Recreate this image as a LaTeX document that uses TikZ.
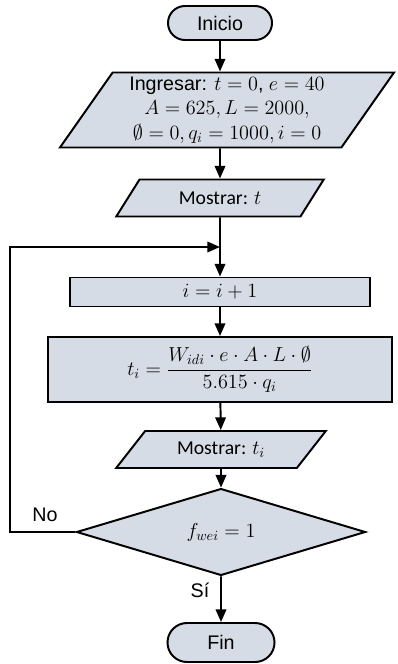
\documentclass[tikz,border=0pt]{standalone}
\usepackage{amsmath}
\usepackage{fontspec}
\setmainfont{Liberation Sans}
\newfontfamily\calibri{Carlito}
\usepackage{tikz}
\usetikzlibrary{shapes.geometric,shapes.misc,arrows.meta}
\definecolor{Box-Fill}{RGB}{214,220,229}
\tikzstyle{e}=[line width=1.4pt,arrows={-Triangle[length=9pt,width=7.5pt]}]
\tikzstyle{base}=[draw=black,line width=1.4pt,fill=Box-Fill,inner sep=0pt,font=\fontsize{14}{17.5}\selectfont]
\tikzstyle{terminal}=[base,rounded rectangle]
\tikzstyle{io}=[base,trapezium,trapezium stretches=true]
\tikzstyle{process}=[base,rectangle]
\tikzstyle{decision}=[base,diamond]
\tikzstyle{tag}=[font=\fontsize{14}{17}\selectfont,inner sep=0pt]

\begin{document}
\begin{tikzpicture}[x=0.025cm,y=-0.025cm]
\useasboundingbox (0,0) rectangle (397,664);

% Nodes
\node[terminal,minimum width=2.6cm,minimum height=0.85cm] (inicio) at (220,23) {Inicio};
\node[io,trapezium left angle=56,trapezium right angle=124,minimum width=8.375cm,minimum height=1.875cm,align=center] (ingresar) at (227,110)
  {Ingresar: $t=0$, $e=40$\\ $A=625, L=2000,$\\ $\emptyset=0, q_i=1000, i=0$};
\node[io,trapezium left angle=47,trapezium right angle=133,minimum width=5.2cm,minimum height=0.925cm] (mostrar t) at (220,198) {\calibri Mostrar: $t$};
\coordinate (retorno) at (220,247);
\node[process,minimum width=7.475cm,minimum height=0.725cm] (incremento) at (220,292) {$i=i+1$};
\node[process,minimum width=8.6cm,minimum height=1.625cm] (tiempo) at (220,369.5)
  {$t_i=\dfrac{W_{idi}\cdot e\cdot A\cdot L\cdot \emptyset}{5.615\cdot q_i}$};
\node[io,trapezium left angle=43,trapezium right angle=137,minimum width=5.275cm,minimum height=0.925cm] (mostrar ti) at (221,449.5) {\calibri Mostrar: $t_i$};
\node[decision,minimum width=7.225cm,minimum height=1.65cm] (condicion) at (221,532) {$f_{wei}=1$};
\node[terminal,minimum width=2.675cm,minimum height=0.975cm] (fin) at (221,642.5) {Fin};
\coordinate (lado) at (10,247);
\node[tag] (no) at (45,515) {No};
\node[tag] (si) at (200,590) {Sí};

% Edges
\draw (inicio)                   edge[e] (inicio |- ingresar.north)
      (inicio |- ingresar.south) edge[e] (mostrar t)
      (mostrar t)                edge[e] (incremento)
      (incremento)               edge[e] (tiempo)
      (tiempo)                   edge[e] (mostrar ti)
      (mostrar ti)               edge[e] (condicion)
      (condicion)                edge[e] (fin);
\draw[e] (condicion.west) -| (lado) -- (retorno);

\end{tikzpicture}
\end{document}
